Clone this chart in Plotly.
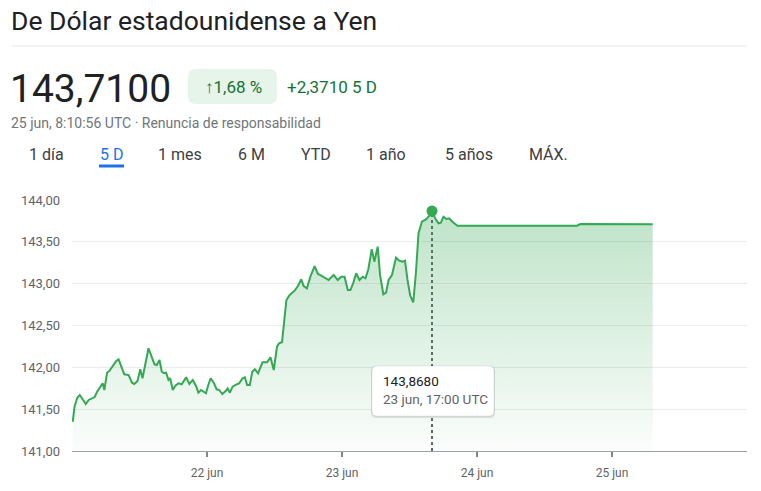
import plotly.graph_objects as go

# ---------------- data ----------------
TITLE = "De Dólar estadounidense a Yen"
LAST_PRICE = "143,7100"
CHANGE_PCT = "↑1,68 %"
CHANGE_ABS = "+2,3710 5 D"
TIMESTAMP = "25 jun, 8:10:56 UTC · Renuncia de responsabilidad"
TABS = ["1 día", "5 D", "1 mes", "6 M", "YTD", "1 año", "5 años", "MÁX."]
ACTIVE_TAB = "5 D"

TIMES = [
    "2023-06-21 00:08", "2023-06-21 00:27", "2023-06-21 00:55", "2023-06-21 01:23", "2023-06-21 01:59",
    "2023-06-21 02:27", "2023-06-21 02:58", "2023-06-21 03:35", "2023-06-21 04:02", "2023-06-21 04:28",
    "2023-06-21 05:03", "2023-06-21 05:27", "2023-06-21 05:45", "2023-06-21 06:14", "2023-06-21 06:41",
    "2023-06-21 07:24", "2023-06-21 07:53", "2023-06-21 08:17", "2023-06-21 08:46", "2023-06-21 09:18",
    "2023-06-21 10:04", "2023-06-21 10:40", "2023-06-21 11:04", "2023-06-21 11:39", "2023-06-21 12:08",
    "2023-06-21 12:32", "2023-06-21 13:36", "2023-06-21 14:12", "2023-06-21 14:40", "2023-06-21 15:05",
    "2023-06-21 15:33", "2023-06-21 15:58", "2023-06-21 16:23", "2023-06-21 16:44", "2023-06-21 17:09",
    "2023-06-21 17:27", "2023-06-21 17:55", "2023-06-21 18:20", "2023-06-21 18:55", "2023-06-21 19:31",
    "2023-06-21 20:17", "2023-06-21 20:52", "2023-06-21 21:28", "2023-06-21 22:03", "2023-06-21 22:28",
    "2023-06-21 22:56", "2023-06-21 23:49", "2023-06-22 00:14", "2023-06-22 00:39", "2023-06-22 01:15",
    "2023-06-22 01:43", "2023-06-22 02:11", "2023-06-22 02:43", "2023-06-22 03:19", "2023-06-22 03:40",
    "2023-06-22 04:04", "2023-06-22 04:33", "2023-06-22 05:15", "2023-06-22 05:43", "2023-06-22 06:19",
    "2023-06-22 06:44", "2023-06-22 07:08", "2023-06-22 07:37", "2023-06-22 08:03", "2023-06-22 08:30",
    "2023-06-22 09:05", "2023-06-22 09:52", "2023-06-22 10:41", "2023-06-22 11:17", "2023-06-22 11:52",
    "2023-06-22 12:27", "2023-06-22 12:48", "2023-06-22 13:20", "2023-06-22 14:07", "2023-06-22 14:42",
    "2023-06-22 15:35", "2023-06-22 16:10", "2023-06-22 16:46", "2023-06-22 17:11", "2023-06-22 17:46",
    "2023-06-22 18:22", "2023-06-22 19:08", "2023-06-22 19:43", "2023-06-22 20:19", "2023-06-22 20:54",
    "2023-06-22 21:37", "2023-06-22 22:30", "2023-06-22 23:15", "2023-06-22 23:52", "2023-06-23 00:27",
    "2023-06-23 01:02", "2023-06-23 01:30", "2023-06-23 02:02", "2023-06-23 02:31", "2023-06-23 03:06",
    "2023-06-23 03:41", "2023-06-23 04:10", "2023-06-23 04:41", "2023-06-23 05:17", "2023-06-23 05:45",
    "2023-06-23 06:21", "2023-06-23 06:46", "2023-06-23 07:21", "2023-06-23 07:50", "2023-06-23 08:17",
    "2023-06-23 08:53", "2023-06-23 09:36", "2023-06-23 10:11", "2023-06-23 10:46", "2023-06-23 11:12",
    "2023-06-23 11:39", "2023-06-23 12:08", "2023-06-23 12:40", "2023-06-23 13:08", "2023-06-23 13:36",
    "2023-06-23 14:12", "2023-06-23 14:55", "2023-06-23 15:30", "2023-06-23 16:00", "2023-06-23 16:34",
    "2023-06-23 17:09", "2023-06-23 17:34", "2023-06-23 18:02", "2023-06-23 18:34", "2023-06-23 19:02",
    "2023-06-23 19:37", "2023-06-23 20:31", "2023-06-24 17:46", "2023-06-24 18:22", "2023-06-25 07:14",
]
VALUES = [
    141.350, 141.530, 141.634, 141.669, 141.610,
    141.562, 141.610, 141.634, 141.645, 141.709,
    141.769, 141.809, 141.729, 141.936, 141.960,
    142.028, 142.076, 142.096, 142.008, 141.917,
    141.908, 141.816, 141.801, 141.837, 141.977,
    141.869, 142.228, 142.127, 142.036, 142.028,
    142.088, 141.948, 141.929, 141.936, 141.849,
    141.869, 141.729, 141.777, 141.809, 141.797,
    141.881, 141.801, 141.849, 141.777, 141.697,
    141.729, 141.690, 141.789, 141.869, 141.809,
    141.737, 141.729, 141.681, 141.717, 141.749,
    141.697, 141.769, 141.797, 141.809, 141.869,
    141.881, 141.789, 141.789, 141.948, 141.978,
    141.929, 142.060, 142.060, 142.120, 141.968,
    142.247, 142.287, 142.299, 142.805, 142.865,
    142.916, 142.972, 143.052, 142.972, 142.945,
    143.083, 143.211, 143.116, 143.095, 143.071,
    143.044, 143.104, 143.044, 143.083, 143.083,
    142.924, 142.924, 143.016, 143.124, 143.044,
    143.083, 143.064, 143.172, 143.411, 143.263,
    143.442, 143.104, 142.873, 142.892, 143.044,
    143.104, 143.310, 143.275, 143.263, 143.275,
    143.044, 142.856, 142.777, 143.124, 143.602,
    143.741, 143.769, 143.809, 143.868, 143.781,
    143.722, 143.729, 143.800, 143.773, 143.781,
    143.741, 143.693, 143.693, 143.713, 143.710,
]
TOOLTIP_VALUE = "143,8680"
TOOLTIP_TIME = "23 jun, 17:00 UTC"

Y_TICKS = [141.0, 141.5, 142.0, 142.5, 143.0, 143.5, 144.0]
X_TICKS = ["2023-06-22", "2023-06-23", "2023-06-24", "2023-06-25"]
X_TICK_LABELS = ["22 jun", "23 jun", "24 jun", "25 jun"]
X_RANGE = ["2023-06-21 00:00", "2023-06-26 00:00"]

# ---------------- styling / layout helpers ----------------
GREEN = "#34a853"
DARK_GREEN = "#137333"
TEXT = "#202124"
GREY = "#5f6368"
FONT = "Roboto"

FIG_W, FIG_H = 761, 491
ML, MR, MT, MB = 72, 14, 200, 40
PW, PH = FIG_W - ML - MR, FIG_H - MT - MB


def px(x):
    return (x - ML) / PW


def py(y):
    return (FIG_H - MB - y) / PH


def rrect_path(x0, y0, x1, y1, r):
    pts = [
        ("M", [(x0 + r, y0)]),
        ("L", [(x1 - r, y0)]),
        ("Q", [(x1, y0), (x1, y0 + r)]),
        ("L", [(x1, y1 - r)]),
        ("Q", [(x1, y1), (x1 - r, y1)]),
        ("L", [(x0 + r, y1)]),
        ("Q", [(x0, y1), (x0, y1 - r)]),
        ("L", [(x0, y0 + r)]),
        ("Q", [(x0, y0), (x0 + r, y0)]),
    ]
    s = ""
    for cmd, ps in pts:
        s += cmd + " " + " ".join(f"{px(a):.5f},{py(b):.5f}" for a, b in ps) + " "
    return s + "Z"


y_min = Y_TICKS[0]
peak_i = max(range(len(VALUES)), key=lambda i: VALUES[i])

fig = go.Figure()
fig.add_trace(go.Scatter(
    x=TIMES, y=[y_min] * len(TIMES), mode="lines",
    line=dict(width=0, color="rgba(0,0,0,0)"), hoverinfo="skip", showlegend=False,
))
fig.add_trace(go.Scatter(
    x=TIMES, y=VALUES, mode="lines",
    line=dict(color=GREEN, width=2),
    fill="tonexty",
    fillgradient=dict(
        type="vertical",
        colorscale=[[0, "rgba(52,168,83,0.02)"], [1, "rgba(52,168,83,0.32)"]],
        start=y_min, stop=VALUES[peak_i],
    ),
    showlegend=False,
))
fig.add_trace(go.Scatter(
    x=[TIMES[peak_i]], y=[VALUES[peak_i]], mode="markers",
    marker=dict(color=GREEN, size=11), showlegend=False,
))

shapes = []
shapes.append(dict(type="line", xref="paper", yref="paper",
                   x0=px(12), x1=px(746), y0=py(46), y1=py(46),
                   line=dict(color="#e6e6e6", width=1), layer="above"))
shapes.append(dict(type="path", xref="paper", yref="paper",
                   path=rrect_path(188, 69, 277, 104, 8),
                   fillcolor="#e6f4ea", line=dict(width=0), layer="above"))
shapes.append(dict(type="line", xref="paper", yref="paper",
                   x0=px(99), x1=px(124), y0=py(166), y1=py(166),
                   line=dict(color="#1a73e8", width=3), layer="above"))
shapes.append(dict(type="line", xref="x", yref="y",
                   x0=TIMES[peak_i], x1=TIMES[peak_i], y0=y_min, y1=VALUES[peak_i],
                   line=dict(color=GREY, width=2, dash="dot"), layer="between"))
shapes.append(dict(type="path", xref="paper", yref="paper",
                   path=rrect_path(371, 366, 495, 418, 5),
                   fillcolor="rgba(0,0,0,0.10)", line=dict(width=0), layer="above"))
shapes.append(dict(type="path", xref="paper", yref="paper",
                   path=rrect_path(372, 366, 494, 416, 5),
                   fillcolor="white", line=dict(color="rgba(0,0,0,0.08)", width=1), layer="above"))

ann = []


def text(x, y, s, size, color, xanchor="left", family=FONT):
    ann.append(dict(x=px(x), y=py(y), xref="paper", yref="paper", text=s,
                    showarrow=False, xanchor=xanchor, yanchor="middle",
                    font=dict(family=family, size=size, color=color)))


text(9, 20, TITLE, 26.5, TEXT)
text(8, 89, LAST_PRICE, 39, TEXT)
text(233, 87, CHANGE_PCT, 17, DARK_GREEN, xanchor="center")
text(285, 87, CHANGE_ABS, 17, DARK_GREEN)
text(9, 123, TIMESTAMP, 14, "#70757a")
tab_centers = [46, 111, 180, 251, 316, 386, 469, 548]
for t, cx in zip(TABS, tab_centers):
    text(cx, 154, t, 16, "#1a73e8" if t == ACTIVE_TAB else "#3c4043", xanchor="center")
text(381, 381, TOOLTIP_VALUE, 13.5, TEXT)
text(381, 399, TOOLTIP_TIME, 13.5, GREY)

fig.update_layout(
    width=FIG_W, height=FIG_H,
    margin=dict(l=ML, r=MR, t=MT, b=MB),
    paper_bgcolor="white", plot_bgcolor="white",
    separators=",.",
    font=dict(family=FONT, color=GREY),
    shapes=shapes, annotations=ann,
    showlegend=False,
    xaxis=dict(
        type="date", range=X_RANGE, tickvals=X_TICKS, ticktext=X_TICK_LABELS,
        showgrid=False, zeroline=False,
        showline=True, linecolor="#9aa0a6", linewidth=1,
        ticks="outside", ticklen=5, tickwidth=2, tickcolor="#80868b",
        tickfont=dict(size=12, color=GREY), ticklabelstandoff=6,
    ),
    yaxis=dict(
        range=[Y_TICKS[0], Y_TICKS[-1]], tickvals=Y_TICKS, tickformat=".2f",
        showgrid=True, gridcolor="#ececec", gridwidth=1, zeroline=False,
        showline=False, ticks="", tickfont=dict(size=13, color=GREY),
        ticklabelstandoff=11,
    ),
)

fig.write_html(
    "out.html",
    config={"displayModeBar": False},
    post_script="document.body.style.margin='0';document.body.style.overflow='hidden';",
)
